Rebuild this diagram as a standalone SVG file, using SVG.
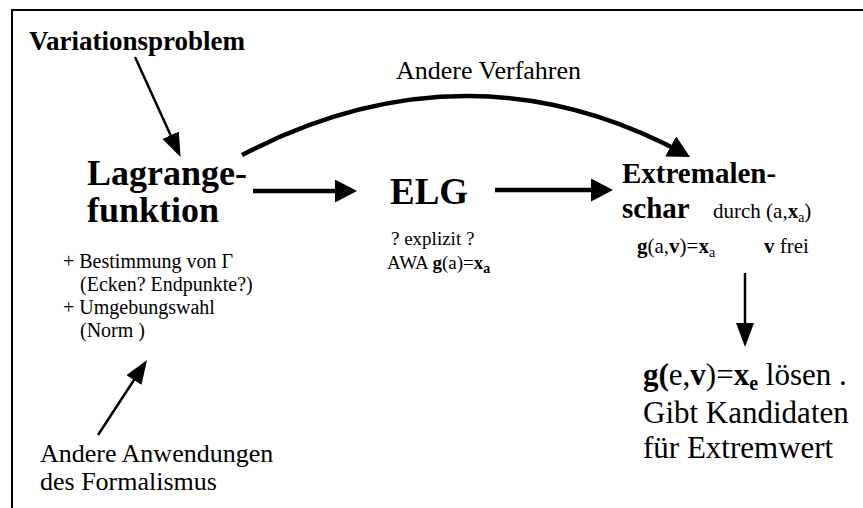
<svg xmlns="http://www.w3.org/2000/svg" width="863" height="508" viewBox="0 0 863 508">
<style>
text{font-family:"Liberation Serif","Times New Roman",serif;fill:#000}
.b{font-weight:bold}
.thin{stroke:#000;stroke-width:2.5;fill:none}
.thick{stroke:#000;stroke-width:4.5;fill:none}
</style>
<defs>
<marker id="hb" markerUnits="userSpaceOnUse" markerWidth="26" markerHeight="24" refX="17" refY="11.5" orient="auto">
<path d="M0,0 L22,11.5 L0,23 z" fill="#000"/>
</marker>
<marker id="ht" markerUnits="userSpaceOnUse" markerWidth="28" markerHeight="20" refX="19" refY="9" orient="auto">
<path d="M0,0 L24,9 L0,18 z" fill="#000"/>
</marker>
</defs>
<rect x="12" y="10" width="900" height="600" fill="none" stroke="#000" stroke-width="2"/>
<g id="connectors">
<line class="thin" x1="135" y1="57" x2="178.5" y2="152.5" marker-end="url(#ht)"/>
<line class="thin" x1="98" y1="435" x2="144.3" y2="364.2" marker-end="url(#ht)"/>
<line class="thin" x1="745" y1="273" x2="745" y2="342" marker-end="url(#ht)"/>
<line class="thick" x1="253" y1="191" x2="352" y2="191" marker-end="url(#hb)"/>
<line class="thick" x1="495" y1="190" x2="608" y2="190" marker-end="url(#hb)"/>
<path class="thick" d="M242,155 C395,75 545,78 685.6,154.6" stroke-width="4" marker-end="url(#hb)"/>
</g>
<g id="variationsproblem"><text class="b" x="29" y="50" font-size="27">Variationsproblem</text></g>
<g id="lagrange">
<text class="b" x="87" y="185" font-size="36">Lagrange-</text>
<text class="b" x="87" y="222" font-size="36">funktion</text>
<text x="63" y="268" font-size="20">+ Bestimmung von Γ</text>
<text x="80" y="291" font-size="20">(Ecken? Endpunkte?)</text>
<text x="63" y="314" font-size="20">+ Umgebungswahl</text>
<text x="80" y="337" font-size="20">(Norm )</text>
</g>
<g id="andere-verfahren"><text x="396" y="79" font-size="26">Andere Verfahren</text></g>
<g id="elg">
<text class="b" x="390" y="204" font-size="37">ELG</text>
<text x="391" y="245" font-size="19">? explizit ?</text>
<text x="387" y="269" font-size="19">AWA <tspan class="b">g</tspan>(a)=<tspan class="b">x</tspan><tspan class="b" font-size="14" dy="4">a</tspan></text>
</g>
<g id="extremalenschar">
<text class="b" x="622" y="183" font-size="29">Extremalen-</text>
<text class="b" x="622" y="218" font-size="29">schar</text>
<text x="713" y="218" font-size="21">durch (a,<tspan class="b">x</tspan><tspan font-size="14" dy="4">a</tspan><tspan dy="-4">)</tspan></text>
<text x="637" y="253" font-size="21"><tspan class="b">g</tspan>(a,<tspan class="b">v</tspan>)=<tspan class="b">x</tspan><tspan font-size="14" dy="4">a</tspan></text>
<text x="764" y="253" font-size="21"><tspan class="b">v</tspan> frei</text>
</g>
<g id="loesen">
<text x="643" y="385" font-size="31"><tspan class="b">g(</tspan>e,<tspan class="b">v</tspan>)=<tspan class="b">x</tspan><tspan class="b" font-size="20" dy="5">e</tspan><tspan dy="-5"> lösen .</tspan></text>
<text x="643" y="423" font-size="31">Gibt Kandidaten</text>
<text x="643" y="458" font-size="31">für Extremwert</text>
</g>
<g id="andere-anwendungen">
<text x="40" y="462" font-size="26">Andere Anwendungen</text>
<text x="40" y="490" font-size="26">des Formalismus</text>
</g>
</svg>
